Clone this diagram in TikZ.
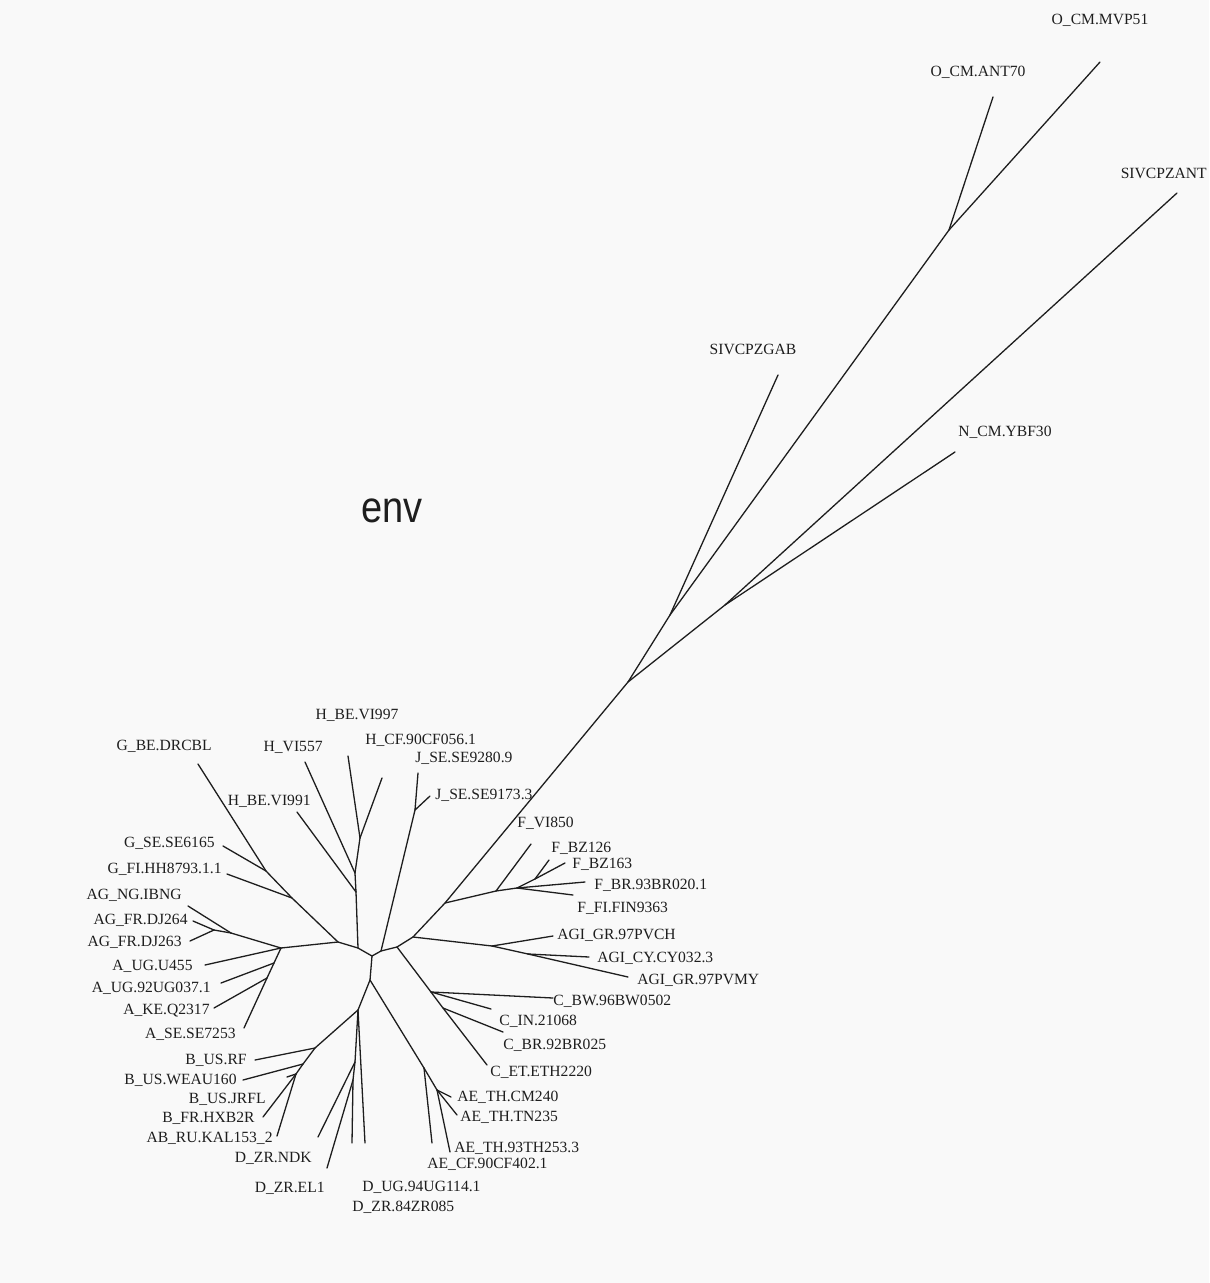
\documentclass[tikz,border=0pt]{standalone}
\usepackage{graphicx}
\usepackage{fontspec}
\setmainfont{Liberation Serif}
\newfontfamily\envfont{Liberation Sans}
\definecolor{bgc}{RGB}{249,249,249}
\definecolor{ink}{RGB}{30,30,30}
\begin{document}
\begin{tikzpicture}[x=0.5pt,y=-0.5pt,
  br/.style={line width=0.65pt, draw=ink, line cap=round},
  lab/.style={inner sep=0pt, font=\fontsize{7.8}{9}\selectfont, text=ink}]
\path[fill=bgc] (0,0) rectangle (1209,1283);
% internal nodes
\coordinate (ctr) at (372,956);
\coordinate (hj) at (358,948);
\coordinate (gj) at (338,942);
\coordinate (aga) at (281,948);
\coordinate (ag0) at (231,933);
\coordinate (ag1) at (214,930);
\coordinate (a1) at (274,963);
\coordinate (a2) at (267,978);
\coordinate (g1) at (292,898);
\coordinate (g2) at (266,871);
\coordinate (h1) at (356,892);
\coordinate (h2) at (355,873);
\coordinate (h3) at (360,838);
\coordinate (jn) at (381,951);
\coordinate (j1) at (415,810);
\coordinate (cn) at (397,947);
\coordinate (c1) at (431,992);
\coordinate (c3) at (443,1008);
\coordinate (mn) at (413,937);
\coordinate (agi0) at (492,946);
\coordinate (agi1) at (528,954);
\coordinate (fj) at (445,903);
\coordinate (f1) at (496,891);
\coordinate (f2) at (517,888);
\coordinate (f3) at (535,879);
\coordinate (s1) at (628,682);
\coordinate (s2) at (725,605);
\coordinate (s3) at (670,615);
\coordinate (on) at (949,230);
\coordinate (bn) at (370,980);
\coordinate (ae1) at (424,1068);
\coordinate (ae2) at (437,1090);
\coordinate (d0) at (358,1010);
\coordinate (d1) at (355,1062);
\coordinate (d2) at (353,1080);
\coordinate (b0) at (315,1048);
\coordinate (b1) at (303,1064);
\coordinate (b2) at (296,1074);
% leaf tips
\coordinate (tIBNG) at (188,906);
\coordinate (tDJ264) at (193,921);
\coordinate (tDJ263) at (190,941);
\coordinate (tU455) at (205,965);
\coordinate (t92UG) at (221,983);
\coordinate (tKE) at (214,1008);
\coordinate (tASE) at (244,1028);
\coordinate (tGFI) at (227,874);
\coordinate (tGSE) at (223,846);
\coordinate (tDRCBL) at (198,764);
\coordinate (tVI991) at (297,812);
\coordinate (tVI557) at (305,762);
\coordinate (tVI997) at (348,756);
\coordinate (tHCF) at (382,778);
\coordinate (tJ9280) at (418,773);
\coordinate (tJ9173) at (430,796);
\coordinate (tCBW) at (553,998);
\coordinate (tCIN) at (491,1009);
\coordinate (tCBR) at (503,1032);
\coordinate (tCET) at (487,1065);
\coordinate (tPVCH) at (553,936);
\coordinate (tCY) at (589,957);
\coordinate (tPVMY) at (628,977);
\coordinate (tVI850) at (531,844);
\coordinate (tFIN) at (573,895);
\coordinate (tBR) at (585,882);
\coordinate (tBZ126) at (549,860);
\coordinate (tBZ163) at (565,863);
\coordinate (tSIVANT) at (1177,193);
\coordinate (tNCM) at (955,452);
\coordinate (tGAB) at (778,375);
\coordinate (tANT70) at (993,97);
\coordinate (tMVP51) at (1100,62);
\coordinate (tAECF) at (432,1143);
\coordinate (t93TH) at (450,1152);
\coordinate (tCM240) at (451,1097);
\coordinate (tTN235) at (457,1115);
\coordinate (tD84) at (365,1143);
\coordinate (tNDK) at (318,1137);
\coordinate (tEL1) at (327,1168);
\coordinate (tDUG) at (352,1143);
\coordinate (tRF) at (255,1060);
\coordinate (tWEAU) at (243,1080);
\coordinate (tJRFL) at (287,1077);
\coordinate (tHXB2R) at (263,1117);
\coordinate (tABRU) at (277,1136);
% branches
\foreach \a/\b in {ctr/hj, hj/gj, gj/aga, aga/ag0, ag0/tIBNG, ag0/ag1, ag1/tDJ264, ag1/tDJ263,
  aga/tU455, aga/a1, a1/t92UG, a1/a2, a2/tKE, a2/tASE,
  gj/g1, g1/tGFI, g1/g2, g2/tGSE, g2/tDRCBL,
  hj/h1, h1/tVI991, h1/h2, h2/tVI557, h2/h3, h3/tVI997, h3/tHCF,
  ctr/jn, jn/j1, j1/tJ9280, j1/tJ9173, jn/cn, cn/c1, c1/tCBW, c1/tCIN, c1/c3, c3/tCBR, c3/tCET,
  cn/mn, mn/agi0, agi0/tPVCH, agi0/agi1, agi1/tCY, agi1/tPVMY,
  mn/fj, fj/f1, f1/tVI850, f1/f2, f2/tFIN, f2/tBR, f2/f3, f3/tBZ126, f3/tBZ163,
  fj/s1, s1/s2, s2/tSIVANT, s2/tNCM, s1/s3, s3/tGAB, s3/on, on/tANT70, on/tMVP51,
  ctr/bn, bn/ae1, ae1/tAECF, ae1/ae2, ae2/t93TH, ae2/tCM240, ae2/tTN235,
  bn/d0, d0/tD84, d0/d1, d1/tNDK, d1/d2, d2/tEL1, d2/tDUG,
  d0/b0, b0/tRF, b0/b1, b1/tWEAU, b1/b2, b2/tJRFL, b2/tHXB2R, b2/tABRU}
  {\draw[br] (\a) -- (\b);}
% labels left
\node[lab, anchor=east] (lDRCBL) at (212,746) {G\_BE.DRCBL};
\node[lab, anchor=east] (lVI991) at (311,801) {H\_BE.VI991};
\node[lab, anchor=east] (lVI557) at (323,747) {H\_VI557};
\node[lab, anchor=east] (lGSE) at (215,843) {G\_SE.SE6165};
\node[lab, anchor=east] (lGFI) at (222,869) {G\_FI.HH8793.1.1};
\node[lab, anchor=east] (lIBNG) at (182,895) {AG\_NG.IBNG};
\node[lab, anchor=east] (lDJ264) at (188,920) {AG\_FR.DJ264};
\node[lab, anchor=east] (lDJ263) at (182,942) {AG\_FR.DJ263};
\node[lab, anchor=east] (lU455) at (193,966) {A\_UG.U455};
\node[lab, anchor=east] (l92UG) at (211,988) {A\_UG.92UG037.1};
\node[lab, anchor=east] (lKE) at (210,1011) {A\_KE.Q2317};
\node[lab, anchor=east] (lASE) at (236,1034) {A\_SE.SE7253};
\node[lab, anchor=east] (lRF) at (247,1060) {B\_US.RF};
\node[lab, anchor=east] (lWEAU) at (237,1080) {B\_US.WEAU160};
\node[lab, anchor=east] (lJRFL) at (266,1099) {B\_US.JRFL};
\node[lab, anchor=east] (lHXB2R) at (255,1118) {B\_FR.HXB2R};
\node[lab, anchor=east] (lABRU) at (273,1138) {AB\_RU.KAL153\_2};
\node[lab, anchor=east] (lNDK) at (312,1158) {D\_ZR.NDK};
\node[lab, anchor=east] (lEL1) at (325,1188) {D\_ZR.EL1};
% labels right
\node[lab, anchor=west] (lHCF) at (365,740) {H\_CF.90CF056.1};
\node[lab, anchor=west] (lJ9280) at (415,758) {J\_SE.SE9280.9};
\node[lab, anchor=west] (lJ9173) at (435,795) {J\_SE.SE9173.3};
\node[lab, anchor=west] (lVI850) at (517,823) {F\_VI850};
\node[lab, anchor=west] (lBZ126) at (551,848) {F\_BZ126};
\node[lab, anchor=west] (lBZ163) at (572,864) {F\_BZ163};
\node[lab, anchor=west] (lBR) at (594,885) {F\_BR.93BR020.1};
\node[lab, anchor=west] (lFIN) at (577,908) {F\_FI.FIN9363};
\node[lab, anchor=west] (lPVCH) at (557,935) {AGI\_GR.97PVCH};
\node[lab, anchor=west] (lCY) at (597,958) {AGI\_CY.CY032.3};
\node[lab, anchor=west] (lPVMY) at (637,980) {AGI\_GR.97PVMY};
\node[lab, anchor=west] (lCBW) at (553,1001) {C\_BW.96BW0502};
\node[lab, anchor=west] (lCIN) at (499,1021) {C\_IN.21068};
\node[lab, anchor=west] (lCBR) at (503,1045) {C\_BR.92BR025};
\node[lab, anchor=west] (lCET) at (490,1072) {C\_ET.ETH2220};
\node[lab, anchor=west] (lCM240) at (457,1097) {AE\_TH.CM240};
\node[lab, anchor=west] (lTN235) at (460,1117) {AE\_TH.TN235};
\node[lab, anchor=west] (l93TH) at (454,1148) {AE\_TH.93TH253.3};
\node[lab, anchor=west] (lAECF) at (427,1164) {AE\_CF.90CF402.1};
\node[lab, anchor=west] (lDUG) at (362,1187) {D\_UG.94UG114.1};
\node[lab, anchor=west] (lD84) at (352,1207) {D\_ZR.84ZR085};
\node[lab, anchor=west] (lNCM) at (958,432) {N\_CM.YBF30};
% labels top
\node[lab] (lGAB) at (753,349) {SIVCPZGAB};
\node[lab] (lVI997) at (357,715) {H\_BE.VI997};
\node[lab] (lANT70) at (978,72) {O\_CM.ANT70};
\node[lab] (lMVP51) at (1100,20) {O\_CM.MVP51};
\node[lab, anchor=east] (lSIVANT) at (1207,173) {SIVCPZANT};
% title
\node[inner sep=0pt, text=ink, font=\envfont\fontsize{20}{20}\selectfont] (env) at (392,511) {\scalebox{0.95}[1.1]{env}};
\end{tikzpicture}
\end{document}
